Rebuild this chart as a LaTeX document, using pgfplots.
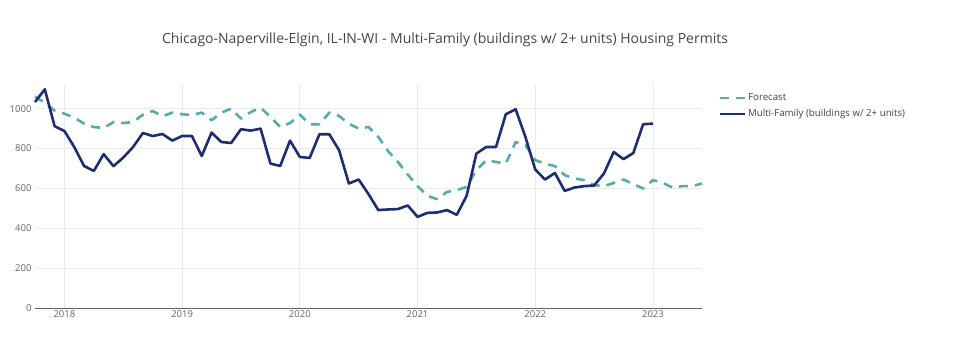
\documentclass[border=0pt]{standalone}
\usepackage{pgfplots}
\pgfplotsset{compat=1.18}
\usepackage{fontspec}
\setmainfont{Open Sans}
\definecolor{fc}{RGB}{88,172,168}
\definecolor{act}{RGB}{28,46,110}
\definecolor{txt}{RGB}{68,68,68}
\definecolor{tick}{RGB}{100,100,100}
\definecolor{grd}{RGB}{235,235,235}
\begin{document}
\begin{tikzpicture}[x=1pt,y=1pt]
\path[use as bounding box] (0,0) rectangle (970,339);
\node[text=txt,font=\fontsize{14}{16}\selectfont,anchor=base] at (445,295.7) {Chicago-Naperville-Elgin, IL-IN-WI - Multi-Family (buildings w/ 2+ units) Housing Permits};
\begin{axis}[
  at={(35pt,30.7pt)}, anchor=origin,
  scale only axis, width=667pt, height=223pt,
  xmin=0, xmax=68, ymin=0, ymax=1117,
  axis x line*=bottom, axis y line*=left,
  x axis line style={draw=tick, line width=1pt},
  y axis line style={draw=none},
  xtick={3,15,27,39,51,63},
  xticklabels={2018,2019,2020,2021,2022,2023},
  ytick={0,200,400,600,800,1000},
  grid=major, major grid style={grd, line width=0.8pt},
  tick style={draw=none},
  ticklabel style={text=tick, font=\fontsize{9.5}{11}\selectfont},
  /pgf/number format/assume math mode=true,
  /pgf/number format/1000 sep={},
  yticklabel style={anchor=east, xshift=0pt},
  xticklabel style={yshift=1pt},
  clip=false,
  legend style={at={(1.02,0.98)}, anchor=north west, draw=none, fill=none,
    font=\fontsize{9.7}{11}\selectfont, text=txt, row sep=3pt,
    /tikz/every even column/.append style={column sep=2pt}},
  legend cell align=left,
  legend image code/.code={\draw[#1] (0pt,0pt) -- (25pt,0pt);},
]
\addplot[fc, line width=2.6pt, dash pattern=on 9pt off 7pt, line join=round] table {
0 1060
1 1030
2 990
3 975
4 955
5 925
6 908
7 903
8 933
9 928
10 933
11 970
12 988
13 962
14 980
15 972
16 968
17 980
18 942
19 980
20 1000
21 950
22 983
23 1005
24 958
25 908
26 928
27 970
28 922
29 922
30 980
31 963
32 925
33 900
34 908
35 858
36 787
37 733
38 670
39 612
40 563
41 547
42 583
43 592
44 608
45 692
46 742
47 733
48 725
49 833
50 817
51 742
52 725
53 712
54 667
55 650
56 642
57 617
58 612
59 628
60 645
61 622
62 600
63 642
64 628
65 605
66 612
67 612
68 625
};
\addlegendentry{Forecast}
\addplot[act, line width=2.6pt, line join=round] table {
0 1033
1 1097
2 912
3 888
4 808
5 713
6 688
7 772
8 712
9 755
10 808
11 878
12 863
13 873
14 840
15 863
16 863
17 763
18 880
19 833
20 828
21 897
22 890
23 900
24 725
25 713
26 840
27 758
28 753
29 872
30 872
31 792
32 625
33 645
34 572
35 492
36 495
37 497
38 515
39 458
40 478
41 480
42 492
43 468
44 563
45 775
46 808
47 808
48 972
49 997
50 858
51 695
52 645
53 678
54 588
55 605
56 612
57 615
58 675
59 783
60 747
61 778
62 922
63 925
};
\addlegendentry{Multi-Family (buildings w/ 2+ units)}
\end{axis}
\end{tikzpicture}
\end{document}
